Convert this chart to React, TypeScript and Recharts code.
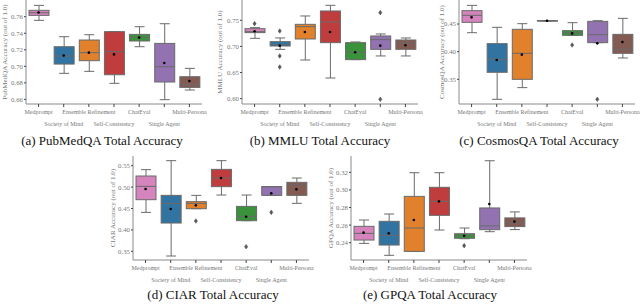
import { ComposedChart, Bar, Scatter, XAxis, YAxis } from 'recharts';

const methods = [
  'Medprompt',
  'Society of Mind',
  'Ensemble Refinement',
  'Self-Consistency',
  'ChatEval',
  'Single Agent',
  'Multi-Persona',
];
const methodColors = ['#d684bd', '#3274a1', '#e1812c', '#c03d3e', '#3a923a', '#9372b2', '#845b53'];

// each box: [low whisker, q1, median, q3, high whisker]
const pubmedBoxes = [
  [0.7556, 0.7616, 0.7648, 0.7677, 0.7737],
  [0.6915, 0.7027, 0.7124, 0.7237, 0.7358],
  [0.6939, 0.7068, 0.7165, 0.7318, 0.7382],
  [0.6794, 0.6898, 0.7177, 0.7419, 0.7419],
  [0.7237, 0.7306, 0.735, 0.7386, 0.7479],
  [0.6596, 0.681, 0.6995, 0.7277, 0.7515],
  [0.6713, 0.6745, 0.6777, 0.6874, 0.6975],
];
const pubmedMeans = [0.765, 0.713, 0.7165, 0.7144, 0.7347, 0.704, 0.6822];
const pubmedOutliers: number[][] = [[], [], [], [], [], [], []];

const mmluBoxes = [
  [0.7155, 0.7264, 0.7283, 0.734, 0.736],
  [0.6944, 0.7008, 0.703, 0.7091, 0.7162],
  [0.674, 0.7142, 0.7379, 0.7423, 0.7583],
  [0.6395, 0.7072, 0.7468, 0.7679, 0.7787],
  [0.6747, 0.6747, 0.6887, 0.7072, 0.7085],
  [0.6817, 0.6944, 0.713, 0.72, 0.7238],
  [0.6817, 0.6944, 0.706, 0.7123, 0.7162],
];
const mmluMeans = [0.729, 0.7015, 0.7277, 0.7277, 0.6887, 0.7015, 0.7021];
const mmluOutliers = [[0.7436], [0.7296, 0.6817, 0.6606], [], [], [], [0.7647, 0.5987], []];

const cosmosBoxes = [
  [0.4343, 0.453, 0.4657, 0.4741, 0.4837],
  [0.3139, 0.3627, 0.3861, 0.4145, 0.444],
  [0.335, 0.35, 0.397, 0.4404, 0.4506],
  [0.456, 0.456, 0.456, 0.456, 0.456],
  [0.4295, 0.4295, 0.4343, 0.438, 0.4524],
  [0.4163, 0.4163, 0.4307, 0.4548, 0.456],
  [0.3886, 0.397, 0.4042, 0.4313, 0.4602],
];
const cosmosMeans = [0.462, 0.385, 0.3946, 0.456, 0.433, 0.415, 0.4175];
const cosmosOutliers = [[], [], [], [], [0.412], [0.3139], []];

const ciarBoxes = [
  [0.441, 0.4706, 0.5017, 0.5259, 0.5407],
  [0.3391, 0.4161, 0.462, 0.4807, 0.5617],
  [0.4496, 0.4496, 0.462, 0.466, 0.4807],
  [0.4815, 0.501, 0.5212, 0.5414, 0.5617],
  [0.4216, 0.4216, 0.4317, 0.455, 0.4815],
  [0.4807, 0.4807, 0.501, 0.501, 0.501],
  [0.4621, 0.4807, 0.505, 0.5111, 0.5212],
];
const ciarMeans = [0.4955, 0.4488, 0.4574, 0.5212, 0.4309, 0.4854, 0.4947];
const ciarOutliers = [[], [], [0.4208], [], [0.3609], [0.441], []];

const gpqaBoxes = [
  [0.2392, 0.243, 0.2506, 0.2586, 0.2658],
  [0.2256, 0.2373, 0.2483, 0.2643, 0.2726],
  [0.2301, 0.2301, 0.2567, 0.2927, 0.3196],
  [0.2544, 0.2711, 0.287, 0.303, 0.3196],
  [0.2445, 0.245, 0.248, 0.2502, 0.2567],
  [0.2525, 0.2548, 0.2591, 0.2795, 0.3332],
  [0.2549, 0.2583, 0.2628, 0.2682, 0.275],
];
const gpqaMeans = [0.2514, 0.2506, 0.2658, 0.287, 0.2478, 0.284, 0.264];
const gpqaOutliers = [[], [], [], [], [0.2366], [], []];

const FONT = '"Liberation Serif", "DejaVu Serif", serif';
const LINE = '#6a6a6a';
const FRAME = '#8a8a8a';
const TEXT = '#777777';

function makeRows(boxes: number[][], means: number[], outliers: number[][]) {
  return methods.map((name, i) => ({
    name,
    color: methodColors[i],
    lo: boxes[i][0],
    q1: boxes[i][1],
    med: boxes[i][2],
    q3: boxes[i][3],
    hi: boxes[i][4],
    mean: means[i],
    o1: outliers[i][0] ?? null,
    o2: outliers[i][1] ?? null,
    o3: outliers[i][2] ?? null,
  }));
}

function StaggerTick(props: any) {
  const { x, y, payload, index } = props;
  return (
    <text
      x={x}
      y={y + (index % 2 ? 16.5 : 4.5)}
      textAnchor="middle"
      fontSize={6}
      fontFamily={FONT}
      fill={TEXT}
    >
      {payload.value}
    </text>
  );
}

const MeanDot = (p: any) =>
  Number.isFinite(p.cy) ? <circle cx={p.cx} cy={p.cy} r={1.3} fill="#000" /> : <g />;

const Diamond = (p: any) => {
  if (!Number.isFinite(p.cy) || !Number.isFinite(p.cx)) return <g />;
  const { cx, cy } = p;
  return (
    <polygon
      points={`${cx},${cy - 2.3} ${cx + 1.6},${cy} ${cx},${cy + 2.3} ${cx - 1.6},${cy}`}
      fill="#555"
      stroke="#555"
      strokeWidth={0.5}
    />
  );
};

const yLabelContent = (text: string, offset: number) => (p: any) => {
  const vb = p.viewBox || { x: 0, y: 2, width: 26, height: 104 };
  const cx = vb.x + offset;
  const cy = vb.y + vb.height / 2;
  return (
    <text
      x={cx}
      y={cy}
      transform={`rotate(-90 ${cx} ${cy})`}
      textAnchor="middle"
      dominantBaseline="central"
      fontSize={7}
      fontFamily={FONT}
      fill={TEXT}
    >
      {text}
    </text>
  );
};

interface PanelProps {
  boxes: number[][];
  means: number[];
  outliers: number[][];
  domain: [number, number];
  ticks: number[];
  yLabel: string;
  labelOffset: number;
  left: number;
  top: number;
}

function BoxPanel({ boxes, means, outliers, domain, ticks, yLabel, labelOffset, left, top }: PanelProps) {
  const rows = makeRows(boxes, means, outliers);
  const [dLo, dHi] = domain;

  const BoxShape = (p: any) => {
    const { x, y, width, height, payload } = p;
    const py = (v: number) => y + ((dHi - v) / (dHi - dLo)) * height;
    const cx = x + width / 2;
    const cap = width / 4;
    const yq1 = py(payload.q1);
    const yq3 = py(payload.q3);
    return (
      <g>
        <line x1={cx} x2={cx} y1={py(payload.hi)} y2={yq3} stroke={LINE} strokeWidth={1} />
        <line x1={cx} x2={cx} y1={yq1} y2={py(payload.lo)} stroke={LINE} strokeWidth={1} />
        <line x1={cx - cap} x2={cx + cap} y1={py(payload.hi)} y2={py(payload.hi)} stroke={LINE} strokeWidth={1} />
        <line x1={cx - cap} x2={cx + cap} y1={py(payload.lo)} y2={py(payload.lo)} stroke={LINE} strokeWidth={1} />
        <rect
          x={x}
          y={yq3}
          width={width}
          height={Math.max(yq1 - yq3, 0.5)}
          fill={payload.color}
          stroke={LINE}
          strokeWidth={1}
        />
        <line x1={x} x2={x + width} y1={py(payload.med)} y2={py(payload.med)} stroke={LINE} strokeWidth={1} />
      </g>
    );
  };

  return (
    <div style={{ position: 'absolute', left: left - 26, top: top - 2 }}>
      <ComposedChart
        width={220}
        height={136}
        data={rows}
        margin={{ top: 2, right: 18, bottom: 0, left: 0 }}
      >
        <XAxis
          dataKey="name"
          type="category"
          height={30}
          interval={0}
          tick={<StaggerTick />}
          tickSize={3}
          tickMargin={2}
          stroke={FRAME}
          tickLine={{ stroke: '#444' }}
        />
        <XAxis xAxisId="top" dataKey="name" orientation="top" height={0} tick={false} tickLine={false} stroke={FRAME} />
        <YAxis
          type="number"
          domain={domain}
          allowDataOverflow
          ticks={ticks}
          width={26}
          tickSize={2}
          tickMargin={1}
          tickFormatter={(v: number) => v.toFixed(2)}
          tick={{ fontSize: 6.8, fontFamily: FONT, fill: TEXT }}
          stroke={FRAME}
          tickLine={{ stroke: '#444' }}
          label={yLabelContent(yLabel, labelOffset)}
        />
        <YAxis yAxisId="r" orientation="right" domain={domain} width={0} tick={false} tickLine={false} stroke={FRAME} />
        <Bar dataKey={() => domain} barSize={20} shape={BoxShape} isAnimationActive={false} />
        <Scatter dataKey="o1" shape={Diamond} isAnimationActive={false} />
        <Scatter dataKey="o2" shape={Diamond} isAnimationActive={false} />
        <Scatter dataKey="o3" shape={Diamond} isAnimationActive={false} />
        <Scatter dataKey="mean" shape={MeanDot} isAnimationActive={false} />
      </ComposedChart>
    </div>
  );
}

function Caption({ text, x, y }: { text: string; x: number; y: number }) {
  return (
    <div
      style={{
        position: 'absolute',
        left: x - 110,
        top: y - 9,
        width: 220,
        textAlign: 'center',
        fontFamily: FONT,
        fontSize: 13,
        lineHeight: '18px',
        color: '#111',
        whiteSpace: 'nowrap',
      }}
    >
      {text}
    </div>
  );
}

export default function App() {
  return (
    <div style={{ position: 'absolute', left: 0, top: 0, width: 640, height: 305, background: '#fff', overflow: 'hidden' }}>
      <BoxPanel
        boxes={pubmedBoxes}
        means={pubmedMeans}
        outliers={pubmedOutliers}
        domain={[0.6544, 0.7802]}
        ticks={[0.66, 0.68, 0.7, 0.72, 0.74, 0.76]}
        yLabel="PubMedQA Accuracy (out of 1.0)"
        labelOffset={5}
        left={26}
        top={0}
      />
      <BoxPanel
        boxes={mmluBoxes}
        means={mmluMeans}
        outliers={mmluOutliers}
        domain={[0.5897, 0.7889]}
        ticks={[0.6, 0.65, 0.7, 0.75]}
        yLabel="MMLU Accuracy (out of 1.0)"
        labelOffset={4}
        left={242}
        top={0}
      />
      <BoxPanel
        boxes={cosmosBoxes}
        means={cosmosMeans}
        outliers={cosmosOutliers}
        domain={[0.3054, 0.4934]}
        ticks={[0.35, 0.4, 0.45]}
        yLabel="CosmosQA Accuracy (out of 1.0)"
        labelOffset={9}
        left={459}
        top={0}
      />
      <BoxPanel
        boxes={ciarBoxes}
        means={ciarMeans}
        outliers={ciarOutliers}
        domain={[0.3298, 0.5726]}
        ticks={[0.35, 0.4, 0.45, 0.5, 0.55]}
        yLabel="CIAR Accuracy (out of 1.0)"
        labelOffset={6}
        left={133}
        top={156}
      />
      <BoxPanel
        boxes={gpqaBoxes}
        means={gpqaMeans}
        outliers={gpqaOutliers}
        domain={[0.2203, 0.3386]}
        ticks={[0.24, 0.26, 0.28, 0.3, 0.32]}
        yLabel="GPQA Accuracy (out of 1.0)"
        labelOffset={6}
        left={351}
        top={156}
      />
      <Caption text="(a) PubMedQA Total Accuracy" x={102} y={141} />
      <Caption text="(b) MMLU Total Accuracy" x={320} y={141} />
      <Caption text="(c) CosmosQA Total Accuracy" x={539} y={141} />
      <Caption text="(d) CIAR Total Accuracy" x={213} y={295} />
      <Caption text="(e) GPQA Total Accuracy" x={430} y={295} />
    </div>
  );
}
